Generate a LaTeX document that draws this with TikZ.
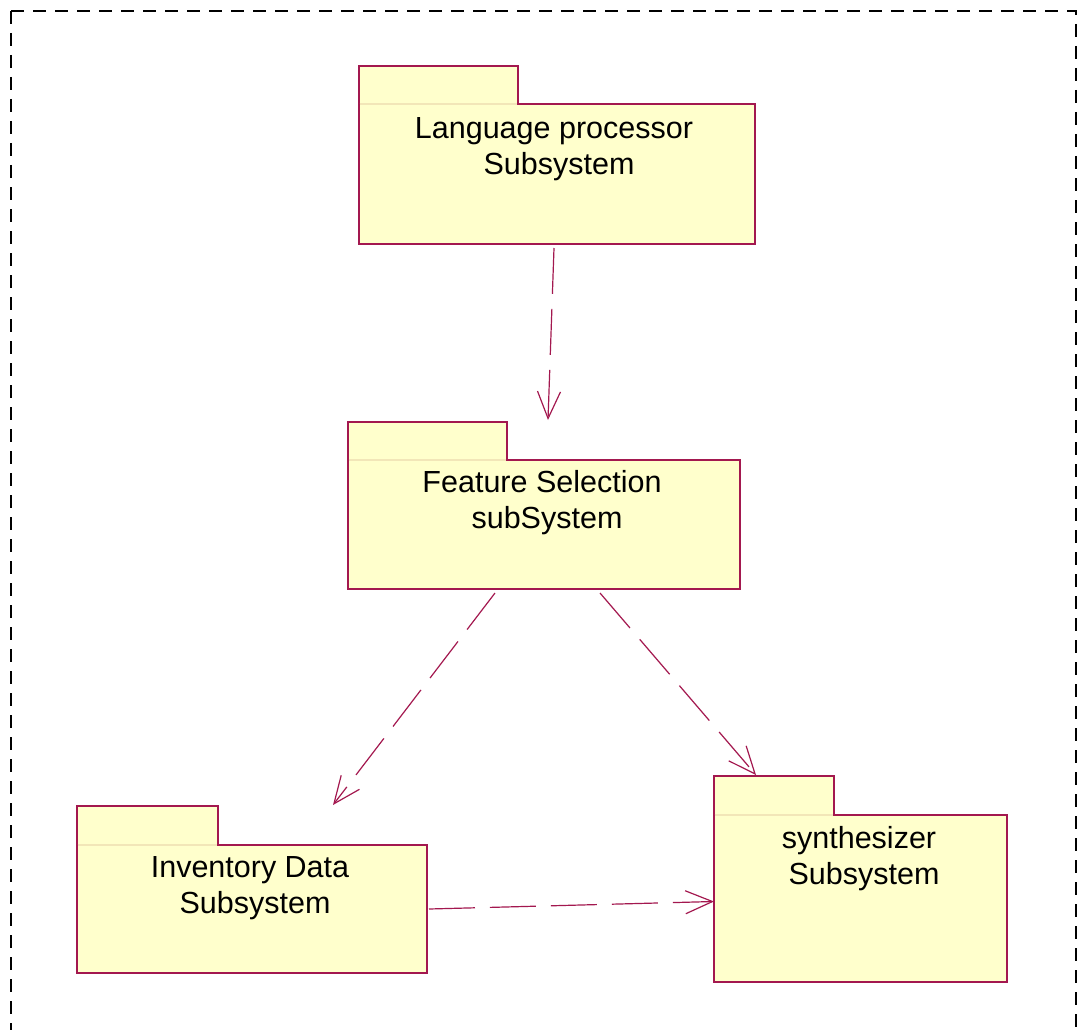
\documentclass[tikz,border=0pt]{standalone}
\usepackage{fontspec}
\setmainfont{Liberation Sans}
\usetikzlibrary{arrows.meta,calc}
\definecolor{roseLine}{HTML}{A3184F}
\definecolor{roseFill}{HTML}{FFFFCC}
\definecolor{roseTab}{HTML}{F2E6B8}

\begin{document}
\begin{tikzpicture}[
  x=1pt,y=-1pt,
  font=\fontsize{30.5}{36}\selectfont,
  pkg/.style={draw=roseLine,fill=roseFill,line width=1.2pt,anchor=north west,
              inner sep=0pt,outer sep=0pt},
  pkgname/.style={align=center,inner sep=0pt},
  dep/.style={draw=roseLine,line width=1.2pt,dash pattern=on 46pt off 15pt,
              -{Straight Barb[length=27pt,width=23pt]}}
]
\useasboundingbox (0,0) rectangle (1079,1030);

% Frame (its bottom edge falls below the page)
\draw[line width=1.8pt,dash pattern=on 13pt off 9pt] (11,11) -- (11,1045);
\draw[line width=1.8pt,dash pattern=on 13pt off 9pt] (11,11) -- (1076,11) -- (1076,1045);

% Packages: tab and body
\node[pkg,minimum width=159pt,minimum height=38pt]  (lpTab)  at (359,66)  {};
\node[pkg,minimum width=396pt,minimum height=140pt] (lp)     at (359,104) {};
\node[pkg,minimum width=159pt,minimum height=38pt]  (fsTab)  at (348,422) {};
\node[pkg,minimum width=392pt,minimum height=129pt] (fs)     at (348,460) {};
\node[pkg,minimum width=141pt,minimum height=39pt]  (invTab) at (77,806)  {};
\node[pkg,minimum width=350pt,minimum height=128pt] (inv)    at (77,845)  {};
\node[pkg,minimum width=120pt,minimum height=39pt]  (synTab) at (714,776) {};
\node[pkg,minimum width=293pt,minimum height=167pt] (syn)    at (714,815) {};

% Pale seam under each tab
\foreach \t in {lpTab,fsTab,invTab,synTab}
  \draw[roseTab,line width=1.2pt] ([xshift=0.7pt]\t.south west) -- ([xshift=-0.7pt]\t.south east);

% Names
\node[pkgname] (lpName)  at (554,149) {Language processor\\\hspace*{10pt}Subsystem};
\node[pkgname] (fsName)  at (542,503) {Feature Selection\\\hspace*{10pt}subSystem};
\node[pkgname] (invName) at (250,888) {Inventory Data\\\hspace*{10pt}Subsystem};
\node[pkgname] (synName) at (859,859) {synthesizer\\\hspace*{10pt}Subsystem};

% Dependencies
\draw[dep] ([xshift=-3pt,yshift=-4pt]lp.south) -- ([xshift=4pt,yshift=40pt]fs.north);
\draw[dep] ([xshift=-49pt,yshift=-4pt]fs.south) -- ([xshift=81pt,yshift=40pt]inv.north);
\draw[dep] ([xshift=56pt,yshift=-4pt]fs.south) -- ([xshift=-18pt,yshift=1pt]synTab.north);
\draw[dep] ([xshift=2pt]inv.east) -- ([yshift=-3pt]syn.west);
\end{tikzpicture}
\end{document}
